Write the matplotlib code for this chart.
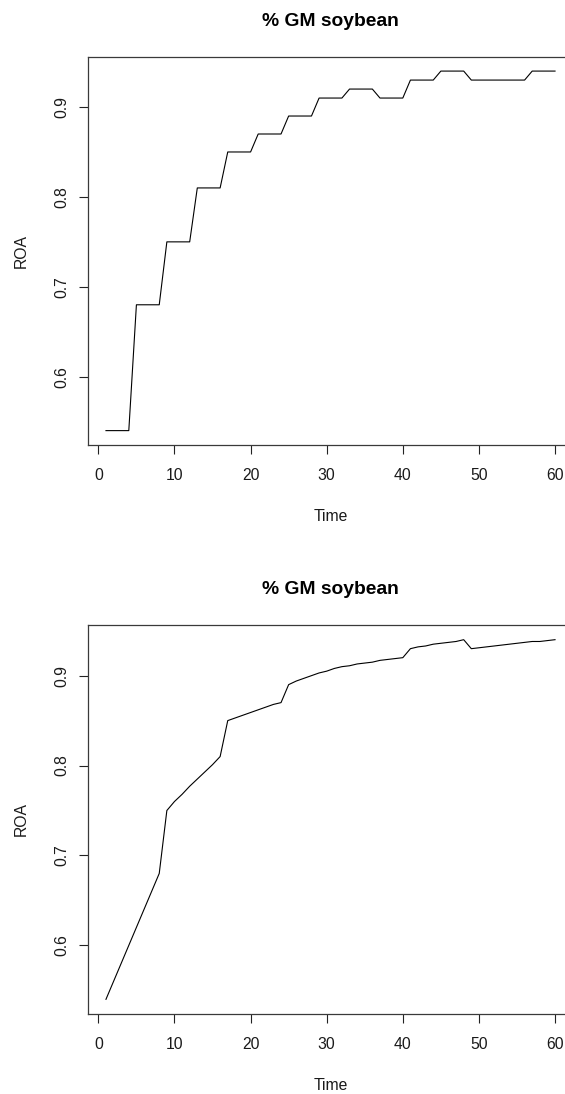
import matplotlib
matplotlib.use("Agg")
import matplotlib.pyplot as plt

plt.rcParams['font.family'] = ['Liberation Sans', 'DejaVu Sans']

# Monthly time index
time = list(range(1, 61))

# ROA held constant between updates
roa_step = [
    0.54, 0.54, 0.54, 0.54, 0.68, 0.68, 0.68, 0.68, 0.75, 0.75,
    0.75, 0.75, 0.81, 0.81, 0.81, 0.81, 0.85, 0.85, 0.85, 0.85,
    0.87, 0.87, 0.87, 0.87, 0.89, 0.89, 0.89, 0.89, 0.91, 0.91,
    0.91, 0.91, 0.92, 0.92, 0.92, 0.92, 0.91, 0.91, 0.91, 0.91,
    0.93, 0.93, 0.93, 0.93, 0.94, 0.94, 0.94, 0.94, 0.93, 0.93,
    0.93, 0.93, 0.93, 0.93, 0.93, 0.93, 0.94, 0.94, 0.94, 0.94,
]

# ROA with gradual monthly changes
roa_smooth = [
    0.540, 0.560, 0.580, 0.600, 0.620, 0.640, 0.660, 0.680, 0.750, 0.760,
    0.768, 0.777, 0.785, 0.793, 0.801, 0.810, 0.850, 0.853, 0.856, 0.859,
    0.862, 0.865, 0.868, 0.870, 0.890, 0.894, 0.897, 0.900, 0.903, 0.905,
    0.908, 0.910, 0.911, 0.913, 0.914, 0.915, 0.917, 0.918, 0.919, 0.920,
    0.930, 0.932, 0.933, 0.935, 0.936, 0.937, 0.938, 0.940, 0.930, 0.931,
    0.932, 0.933, 0.934, 0.935, 0.936, 0.937, 0.938, 0.938, 0.939, 0.940,
]

title = "% GM soybean"
xlabel = "Time"
ylabel = "ROA"
xticks = [0, 10, 20, 30, 40, 50, 60]
yticks = [0.6, 0.7, 0.8, 0.9]

W, H = 565, 1094
fig = plt.figure(figsize=(W / 100, H / 100), dpi=100)


def px_axes(left, top, right, bottom):
    return fig.add_axes([left / W, 1 - bottom / H, (right - left) / W, (bottom - top) / H])


def draw_panel(ax, y):
    ax.plot(time, y, color='black', linewidth=0.8, solid_joinstyle='round')
    # R-style 4% padding around the data range
    xr = max(time) - min(time)
    yr = max(y) - min(y)
    ax.set_xlim(min(time) - 0.04 * xr, max(time) + 0.04 * xr)
    ax.set_ylim(min(y) - 0.04 * yr, max(y) + 0.04 * yr)
    ax.set_xticks(xticks)
    ax.set_xticklabels([str(t) for t in xticks])
    ax.set_yticks(yticks)
    ax.set_yticklabels([f"{t:.1f}" for t in yticks], rotation=90, va='center')
    for s in ax.spines.values():
        s.set_color('#3a3a3a')
        s.set_linewidth(0.9)
    ax.tick_params(axis='both', direction='out', length=6.5, width=0.8,
                   color='#222222', labelsize=11.3, labelcolor='#1a1a1a')
    ax.tick_params(axis='x', pad=10)
    ax.tick_params(axis='y', pad=7)
    ax.set_xlabel(xlabel, fontsize=11.3, color='#1a1a1a')
    ax.xaxis.set_label_coords(0.5, -0.165)
    ax.set_ylabel(ylabel, fontsize=11.3, color='#1a1a1a')
    ax.yaxis.set_label_coords(-0.122, 0.5)
    ax.set_title(title, fontsize=13.9, fontweight='bold', pad=22.3)


ax1 = px_axes(88, 56.7, 573, 445)
draw_panel(ax1, roa_step)

ax2 = px_axes(88, 625.3, 573, 1013.7)
draw_panel(ax2, roa_smooth)

fig.savefig("out.png", dpi=100, facecolor='white')
